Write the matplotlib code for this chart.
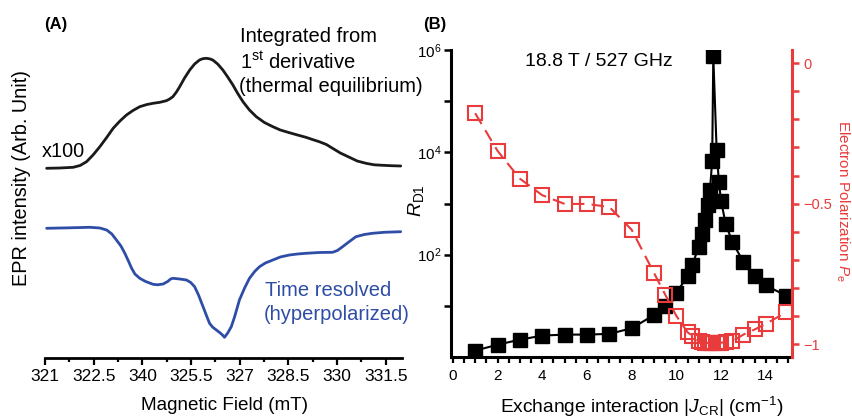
import matplotlib
matplotlib.use('Agg')
import matplotlib.pyplot as plt
from matplotlib.ticker import FixedLocator, NullFormatter
import numpy as np

plt.rcParams['font.family'] = ['Liberation Sans', 'DejaVu Sans']
plt.rcParams['mathtext.fontset'] = 'custom'
plt.rcParams['mathtext.rm'] = 'Liberation Sans'
plt.rcParams['mathtext.it'] = 'Liberation Sans:italic'
plt.rcParams['mathtext.bf'] = 'Liberation Sans:bold'

# ---------------- Panel A data ----------------
field_ticks = [321, 322.5, 324, 325.5, 327, 328.5, 330, 331.5]
field_tick_labels = ["321", "322.5", "340", "325.5", "327", "328.5", "330", "331.5"]

black_field = [321.05, 321.46, 321.87, 322.08, 322.28, 322.48, 322.69, 322.90,
               323.10, 323.31, 323.51, 323.71, 323.92, 324.14, 324.33, 324.54,
               324.74, 324.84, 324.94, 325.05, 325.15, 325.30, 325.46, 325.61,
               325.76, 325.86, 325.97, 326.07, 326.17, 326.32, 326.48, 326.63,
               326.79, 326.93, 327.10, 327.30, 327.51, 327.76, 328.02, 328.25,
               328.53, 328.78, 329.04, 329.24, 329.45, 329.67, 329.86, 330.10,
               330.38, 330.62, 330.89, 331.14, 331.40, 331.67, 331.96]
black_int = [-0.003, 0.0, 0.007, 0.025, 0.063, 0.13, 0.213, 0.305,
             0.397, 0.47, 0.53, 0.575, 0.613, 0.635, 0.647, 0.657,
             0.673, 0.69, 0.713, 0.76, 0.813, 0.90, 0.98, 1.04,
             1.08, 1.093, 1.097, 1.092, 1.08, 1.04, 0.98, 0.91,
             0.83, 0.75, 0.663, 0.58, 0.513, 0.455, 0.413, 0.38,
             0.353, 0.33, 0.307, 0.285, 0.263, 0.235, 0.197, 0.15,
             0.107, 0.07, 0.047, 0.032, 0.027, 0.023, 0.02]

blue_field = [321.05, 321.77, 322.38, 322.69, 322.90, 323.06, 323.20, 323.34,
              323.46, 323.57, 323.67, 323.77, 323.92, 324.10, 324.33, 324.47,
              324.64, 324.78, 324.87, 324.94, 325.15, 325.36, 325.49, 325.61,
              325.73, 325.87, 325.98, 326.07, 326.16, 326.28, 326.38, 326.47,
              326.53, 326.63, 326.74, 326.84, 326.99, 327.15, 327.30, 327.46,
              327.61, 327.79, 328.02, 328.25, 328.53, 328.78, 329.04, 329.45,
              329.86, 330.01, 330.17, 330.38, 330.58, 330.84, 331.09, 331.45,
              331.96]
blue_int = [-0.003, 0.002, 0.007, 0.0, -0.02, -0.06, -0.12, -0.18,
            -0.253, -0.33, -0.403, -0.46, -0.503, -0.535, -0.563, -0.568,
            -0.56, -0.535, -0.51, -0.503, -0.51, -0.52, -0.545, -0.587,
            -0.67, -0.787, -0.88, -0.953, -0.99, -1.02, -1.045, -1.07,
            -1.093, -1.05, -0.987, -0.89, -0.72, -0.60, -0.503, -0.435,
            -0.387, -0.35, -0.32, -0.29, -0.27, -0.26, -0.253, -0.245,
            -0.243, -0.225, -0.187, -0.135, -0.087, -0.065, -0.053, -0.043,
            -0.037]

# ---------------- Panel B data ----------------
J = [1, 2, 3, 4, 5, 6, 7, 8, 9, 9.5, 10, 10.5, 10.7, 11, 11.15, 11.3, 11.4,
     11.5, 11.6, 11.65, 11.8, 11.9, 12, 12.2, 12.5, 13, 13.5, 14, 14.9]
R_D1 = [1.33, 1.74, 2.18, 2.62, 2.74, 2.74, 2.83, 3.65, 6.6, 10.1, 18, 38, 62,
        141, 258, 470, 955, 1820, 6750, 7.5e5, 11100, 2600, 1110, 406, 177,
        72, 39, 25, 15.9]
P_e = [-0.178, -0.312, -0.411, -0.47, -0.501, -0.501, -0.512, -0.593, -0.747,
       -0.824, -0.90, -0.958, -0.97, -0.99, -0.993, -0.995, -0.996, -0.997,
       -0.997, -0.997, -0.997, -0.996, -0.995, -0.993, -0.99, -0.966, -0.948,
       -0.928, -0.887]

W, H = 852, 419
BLUE = '#2E4DA6'
RED = '#E93B3B'

fig = plt.figure(figsize=(W / 100, H / 100), dpi=100)


def ftext(x, y, s, **kw):
    fig.text(x / W, 1 - y / H, s, **kw)


# ---------------- Panel A ----------------
axA = fig.add_axes([45 / W, (H - 358) / H, 357 / W, 338 / H])
axA.plot(black_field, np.array(black_int) + 1.90, color='#1a1a1a', lw=2.0,
         solid_joinstyle='round', solid_capstyle='round')
axA.plot(blue_field, np.array(blue_int) + 1.30, color=BLUE, lw=2.0,
         solid_joinstyle='round', solid_capstyle='round')
axA.set_xlim(321, 332)
axA.set_ylim(0, 3.38)
for s in ['top', 'right', 'left']:
    axA.spines[s].set_visible(False)
axA.spines['bottom'].set_linewidth(2.0)
axA.set_yticks([])
axA.xaxis.set_major_locator(FixedLocator(field_ticks))
axA.set_xticklabels(field_tick_labels, fontsize=12.5)
axA.xaxis.set_minor_locator(FixedLocator([t + 0.75 for t in field_ticks]))
axA.tick_params(axis='x', which='major', length=5, width=1.6, pad=3)
axA.tick_params(axis='x', which='minor', length=3, width=1.6)
axA.set_facecolor('none')

ftext(22, 178, 'EPR intensity (Arb. Unit)', rotation=90, ha='center', va='center',
      fontsize=14.3)
ftext(225, 405, 'Magnetic Field (mT)', ha='center', va='center', fontsize=13.6)
ftext(44, 24, '(A)', ha='left', va='center', fontsize=12, fontweight='bold')
ftext(240, 37, 'Integrated from', ha='left', va='center', fontsize=14.5)
ftext(240, 62, r'1$^{\mathrm{st}}$ derivative', ha='left', va='center', fontsize=14.5)
ftext(239, 87, '(thermal equilibrium)', ha='left', va='center', fontsize=14.5)
ftext(42, 151, 'x100', ha='left', va='center', fontsize=14.3)
ftext(265, 290, 'Time resolved', ha='left', va='center', fontsize=14.5, color=BLUE)
ftext(264, 315, '(hyperpolarized)', ha='left', va='center', fontsize=14.5, color=BLUE)

# ---------------- Panel B ----------------
axB = fig.add_axes([451 / W, (H - 357) / H, 341 / W, 307 / H])
axB.plot(J, R_D1, color='black', lw=1.5, marker='s', markersize=10,
         markerfacecolor='black', markeredgecolor='black', zorder=3)
axB.set_yscale('log')
axB.set_ylim(1, 1e6)
axB.set_xlim(-0.08, 15.17)
axB.spines['top'].set_visible(False)
axB.spines['right'].set_visible(False)
for s in ['left', 'bottom']:
    axB.spines[s].set_linewidth(2.2)
axB.yaxis.set_major_locator(FixedLocator([1e2, 1e4, 1e6]))
axB.yaxis.set_minor_locator(FixedLocator([1e1, 1e3, 1e5]))
axB.yaxis.set_minor_formatter(NullFormatter())
axB.set_yticklabels([r'$10^{2}$', r'$10^{4}$', r'$10^{6}$'], fontsize=11)
axB.xaxis.set_major_locator(FixedLocator(list(range(0, 15, 2))))
axB.xaxis.set_minor_locator(FixedLocator([i * 0.5 for i in range(0, 31)]))
axB.tick_params(axis='x', which='both', length=4.5, width=1.6, labelsize=11, pad=4)
axB.tick_params(axis='y', which='both', length=5, width=1.8, pad=2)
axB.set_facecolor('none')

ax2 = axB.twinx()
ax2.plot(J, P_e, color=RED, lw=1.5, linestyle=(0, (6, 3.5)), marker='s',
         markersize=10, markerfacecolor='none', markeredgecolor=RED,
         markeredgewidth=1.5, zorder=4)
ax2.set_ylim(-1.046, 0.047)
ax2.set_xlim(-0.08, 15.17)
for s in ['top', 'left', 'bottom']:
    ax2.spines[s].set_visible(False)
ax2.spines['right'].set_color(RED)
ax2.spines['right'].set_linewidth(2.2)
ax2.yaxis.set_major_locator(FixedLocator([-1, -0.5, 0]))
ax2.set_yticklabels(['\u22121', '\u22120.5', '0'], fontsize=10.5, color=RED)
ax2.yaxis.set_minor_locator(FixedLocator([-0.9, -0.8, -0.7, -0.6, -0.4, -0.3, -0.2, -0.1]))
ax2.tick_params(axis='y', which='both', length=5, width=1.8, color=RED, pad=3)

ftext(599, 62, '18.8 T / 527 GHz', ha='center', va='center', fontsize=14)
ftext(423, 25, '(B)', ha='left', va='center', fontsize=12, fontweight='bold')
ftext(416, 201, r'$R_{\mathrm{D1}}$', rotation=90, ha='center', va='center',
      fontsize=14)
ftext(843, 201, r'Electron Polarization $P_{\mathrm{e}}$', rotation=-90,
      ha='center', va='center', fontsize=11, color=RED)
ftext(642, 413, r'Exchange interaction $|J_{\mathrm{CR}}|$ (cm$^{-1}$)',
      ha='center', va='baseline', fontsize=13.8)

fig.savefig('out.png', dpi=100)
